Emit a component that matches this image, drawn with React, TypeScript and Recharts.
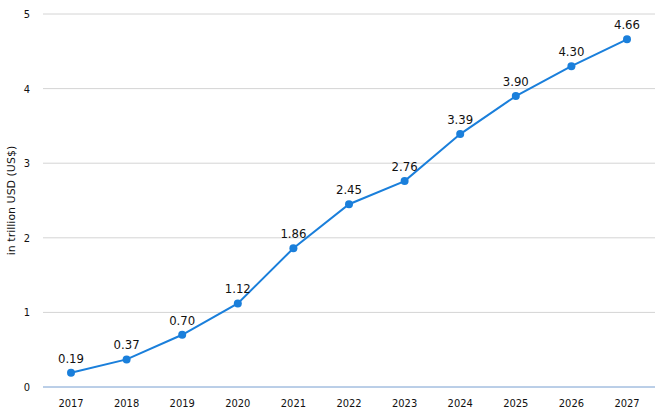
import React from "react";
import { LineChart, Line, XAxis, YAxis, CartesianGrid, LabelList } from "recharts";

const years = ["2017", "2018", "2019", "2020", "2021", "2022", "2023", "2024", "2025", "2026", "2027"];
const values = [0.19, 0.37, 0.7, 1.12, 1.86, 2.45, 2.76, 3.39, 3.9, 4.3, 4.66];
const yTicks = [0, 1, 2, 3, 4, 5];

const data = years.map((y, i) => ({ year: y, value: values[i] }));

const FONT = "'DejaVu Sans Condensed', 'Liberation Sans Narrow', sans-serif";
const LABEL_FONT = "'DejaVu Sans', sans-serif";

export default function App() {
  return (
    <div style={{ position: "absolute", left: 0, top: 0, width: 660, height: 420, background: "#fff", fontFamily: FONT }}>
      <LineChart width={660} height={420} data={data} margin={{ top: 14, right: 5, bottom: 7, left: 0 }}>
        <CartesianGrid vertical={false} stroke="#d4d4d4" />
        <XAxis
          dataKey="year"
          padding={{ left: 28, right: 28 }}
          axisLine={{ stroke: "#8cb4e6" }}
          tickLine={false}
          tickSize={0}
          tickMargin={12}
          tick={{ fill: "#111", fontSize: 11, fontFamily: FONT }}
          height={26}
        />
        <YAxis
          domain={[0, 5]}
          ticks={yTicks}
          axisLine={false}
          tickLine={false}
          tickSize={0}
          tickMargin={13}
          width={43}
          tick={{ fill: "#111", fontSize: 11, fontFamily: FONT }}
          label={{
            value: "in trillion USD (US$)",
            angle: -90,
            position: "insideLeft",
            offset: 11,
            style: { textAnchor: "middle", fill: "#111", fontSize: 11, fontFamily: LABEL_FONT },
          }}
        />
        <Line
          type="linear"
          dataKey="value"
          stroke="#1a7fdb"
          strokeWidth={2}
          dot={{ r: 4, fill: "#1a7fdb", stroke: "#1a7fdb", strokeWidth: 0 }}
          isAnimationActive={false}
        >
          <LabelList
            dataKey="value"
            position="top"
            offset={10}
            formatter={(v: number) => v.toFixed(2)}
            style={{ fill: "#111", fontSize: 13, fontFamily: FONT }}
          />
        </Line>
      </LineChart>
    </div>
  );
}
